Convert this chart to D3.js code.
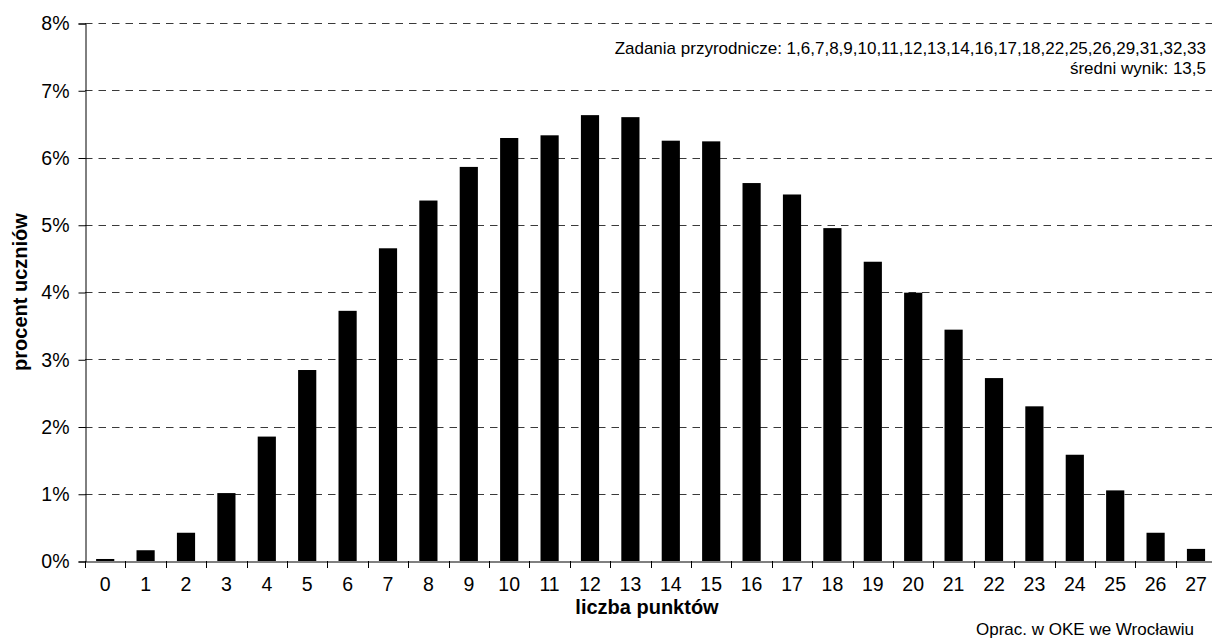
<!DOCTYPE html>
<html>
<head>
<meta charset="utf-8">
<script src="https://cdn.jsdelivr.net/npm/d3@7/dist/d3.min.js"></script>
<style>
  html, body { margin: 0; padding: 0; background: #fff; }
  svg { display: block; font-family: "Liberation Sans", Arial, sans-serif; }
</style>
</head>
<body>
<svg id="chart" width="1212" height="639"></svg>
<script>
// ---- data ----
const categories = ["0","1","2","3","4","5","6","7","8","9","10","11","12","13","14","15","16","17","18","19","20","21","22","23","24","25","26","27"];
const values = [0.03,0.16,0.42,1.01,1.85,2.84,3.72,4.65,5.36,5.86,6.29,6.33,6.63,6.60,6.25,6.24,5.62,5.45,4.95,4.45,3.99,3.44,2.72,2.30,1.58,1.05,0.42,0.18];
const yTicks = [0,1,2,3,4,5,6,7,8];
const yTickLabels = ["0%","1%","2%","3%","4%","5%","6%","7%","8%"];
const xTitle = "liczba punktów";
const yTitle = "procent uczniów";
const noteLines = ["Zadania przyrodnicze: 1,6,7,8,9,10,11,12,13,14,16,17,18,22,25,26,29,31,32,33", "średni wynik: 13,5"];
const credit = "Oprac. w OKE we Wrocławiu";

// ---- layout ----
const svg = d3.select("#chart");
const plotLeft = 85, plotTop = 23, plotBottom = 561, step = 40.4;
const plotRight = plotLeft + step * categories.length;

const x = d3.scaleBand().domain(categories).range([plotLeft, plotRight]).padding(0);
const y = d3.scaleLinear().domain([0, 8]).range([plotBottom, plotTop]);

// gridlines
svg.append("g").selectAll("line").data(yTicks.filter(d => d > 0)).join("line")
  .attr("x1", plotLeft).attr("x2", 1212)
  .attr("y1", d => Math.round(y(d)) + 0.5).attr("y2", d => Math.round(y(d)) + 0.5)
  .attr("stroke", "#3a3a3a").attr("stroke-width", 1)
  .attr("stroke-dasharray", "7.5,6");

// bars
const bw = x.bandwidth() * 0.45;
svg.append("g").selectAll("rect").data(categories).join("rect")
  .attr("x", (c) => x(c) + (x.bandwidth() - bw) / 2)
  .attr("width", bw)
  .attr("y", (c, i) => y(values[i]))
  .attr("height", (c, i) => y(0) - y(values[i]))
  .attr("fill", "#000");

// y axis
const yAxis = d3.axisLeft(y).tickValues(yTicks)
  .tickFormat((d, i) => yTickLabels[i]).tickSizeOuter(0).tickSize(7).tickPadding(9);
const gy = svg.append("g").attr("transform", `translate(${plotLeft + 0.5},0.5)`).call(yAxis);
gy.select(".domain").attr("stroke", "#000");
gy.selectAll(".tick line").attr("stroke", "#000");
gy.selectAll(".tick text").attr("font-size", "19.5px").attr("fill", "#000")
  .attr("font-family", "Liberation Sans, Arial, sans-serif");

// x axis (labels)
const xAxis = d3.axisBottom(x).tickSize(0).tickPadding(16).tickSizeOuter(0);
const gx = svg.append("g").attr("transform", `translate(0,${Math.round(plotBottom) + 0.5})`).call(xAxis);
gx.select(".domain").attr("stroke", "#000");
gx.selectAll(".tick text").attr("font-size", "19.5px").attr("fill", "#000")
  .attr("font-family", "Liberation Sans, Arial, sans-serif");

// x axis boundary ticks
const boundaries = categories.map(c => x(c)).concat([x(categories[categories.length - 1]) + x.bandwidth()]);
svg.append("g").selectAll("line").data(boundaries).join("line")
  .attr("x1", d => Math.round(d) + 0.5).attr("x2", d => Math.round(d) + 0.5)
  .attr("y1", Math.round(plotBottom)).attr("y2", Math.round(plotBottom) + 7)
  .attr("stroke", "#000");

// axis titles
svg.append("text").attr("x", 647).attr("y", 614)
  .attr("text-anchor", "middle").attr("font-size", "20px").attr("font-weight", "bold")
  .text(xTitle);
svg.append("text").attr("transform", "translate(27,292) rotate(-90)")
  .attr("text-anchor", "middle").attr("font-size", "20px").attr("font-weight", "bold")
  .text(yTitle);

// note (top right)
svg.append("g").selectAll("text").data(noteLines).join("text")
  .attr("x", 1206).attr("y", (d, i) => 54 + i * 20)
  .attr("text-anchor", "end").attr("font-size", "17px")
  .text(d => d);

// credit
svg.append("text").attr("x", 1085).attr("y", 635)
  .attr("text-anchor", "middle").attr("font-size", "17px")
  .text(credit);
</script>
</body>
</html>
